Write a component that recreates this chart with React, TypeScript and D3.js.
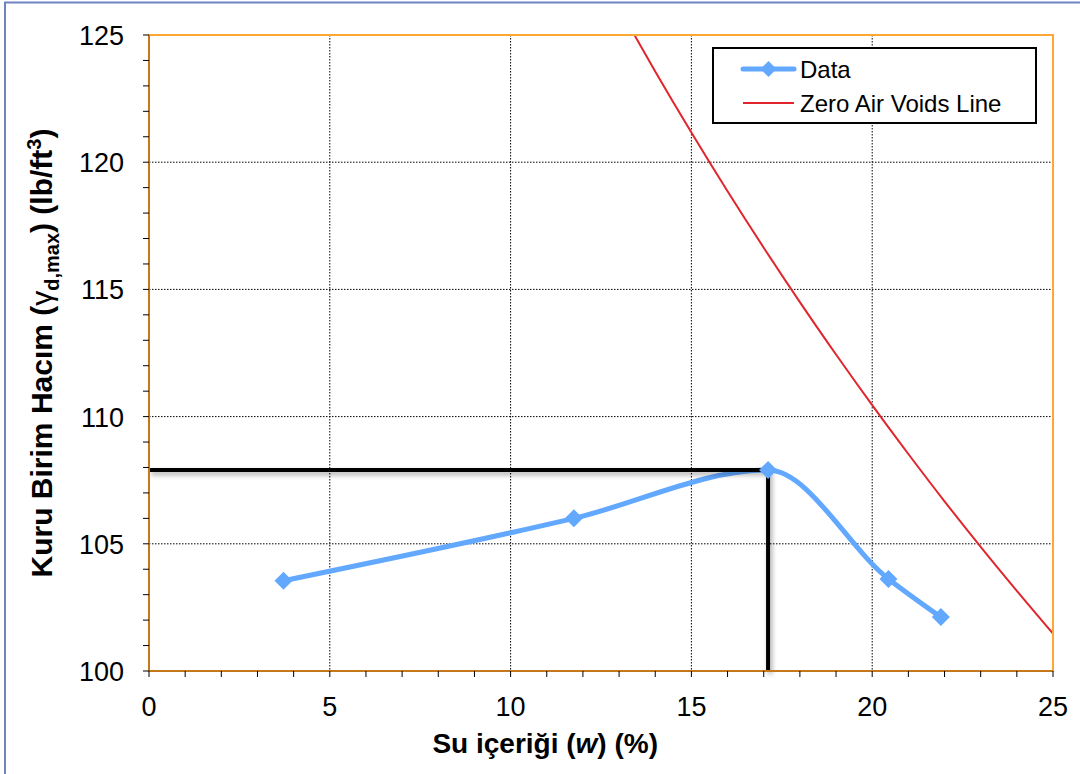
import React from "react";
import * as d3 from "d3";

const dataW = [3.72, 11.75, 17.12, 20.45, 21.9];
const dataG = [103.55, 106.0, 107.9, 103.62, 102.12];

const zavW = [13, 14, 15, 16, 17, 18, 19, 20, 21, 22, 23, 24, 25];
const zavG = [126.07, 123.57, 121.17, 118.86, 116.64, 114.5, 112.44, 110.45, 108.53, 106.67, 104.88, 103.15, 101.47];

const xTicks = [0, 5, 10, 15, 20, 25];
const yTicks = [100, 105, 110, 115, 120, 125];
const xMinor = d3.range(0, 26, 1);
const yMinor = d3.range(100, 126, 1);

const optW = [17.12];
const optG = [107.9];

const W = 1080, H = 774;
const L = 149, R = 1053, T = 35, B = 671;
const FONT = "Arial, 'Liberation Sans', sans-serif";

export default function App() {
  const x = d3.scaleLinear().domain([0, 25]).range([L, R]);
  const y = d3.scaleLinear().domain([100, 125]).range([B, T]);
  const dataPts = dataW.map((w, i) => [w, dataG[i]] as [number, number]);
  const zavPts = zavW.map((w, i) => [w, zavG[i]] as [number, number]);
  const line = d3.line<[number, number]>().x(d => x(d[0])).y(d => y(d[1]));
  const smooth = d3.line<[number, number]>().x(d => x(d[0])).y(d => y(d[1])).curve(d3.curveMonotoneX);
  const zavLine = d3.line<[number, number]>().x(d => x(d[0])).y(d => y(d[1])).curve(d3.curveMonotoneX);
  const diamond = (cx: number, cy: number, r: number) => `M${cx},${cy - r}L${cx + r},${cy}L${cx},${cy + r}L${cx - r},${cy}Z`;
  const blue = "#62A8FF";
  const red = "#E0262C";

  return (
    <svg width={W} height={H} style={{ position: "absolute", left: 0, top: 0, background: "#fff" }} fontFamily={FONT}>
      <defs>
        <clipPath id="plotClip"><rect x={L} y={T} width={R - L} height={B - T} /></clipPath>
        <filter id="shadow" x="-20%" y="-20%" width="140%" height="140%">
          <feDropShadow dx="2" dy="3" stdDeviation="2.5" floodColor="#000" floodOpacity="0.35" />
        </filter>
      </defs>
      <rect x={0} y={0} width={W} height={H} fill="#fff" />
      <path d={`M5,${H}V2.5H${W}`} fill="none" stroke="#6E84C2" strokeWidth={2} />

      {/* grid */}
      {xTicks.slice(1, -1).map(t => (
        <line key={"gx" + t} x1={x(t)} x2={x(t)} y1={T} y2={B} stroke="#000" strokeWidth={1} strokeDasharray="1.5,1.5" />
      ))}
      {yTicks.slice(1, -1).map(t => (
        <line key={"gy" + t} x1={L} x2={R} y1={y(t)} y2={y(t)} stroke="#000" strokeWidth={1} strokeDasharray="1.5,1.5" />
      ))}

      <g clipPath="url(#plotClip)">
        <path d={zavLine(zavPts) || ""} fill="none" stroke={red} strokeWidth={2} />
        <path d={smooth(dataPts) || ""} fill="none" stroke={blue} strokeWidth={5} strokeLinejoin="round" />
      </g>

      {/* optimum lines */}
      <g filter="url(#shadow)">
        <path d={line([[0, optG[0]], [optW[0], optG[0]], [optW[0], 100]]) || ""} fill="none" stroke="#000" strokeWidth={4} strokeLinejoin="miter" />
      </g>

      {dataPts.map((d, i) => (
        <path key={"m" + i} d={diamond(x(d[0]), y(d[1]), 9)} fill={blue} />
      ))}

      {/* plot border */}
      <rect x={L} y={T} width={R - L} height={B - T} fill="none" stroke="#FFA733" strokeWidth={2} />
      <line x1={L} x2={L} y1={T} y2={B} stroke="#8B4A00" strokeWidth={1} />
      <line x1={L} x2={R} y1={B} y2={B} stroke="#8B4A00" strokeWidth={1} />

      {/* ticks */}
      {xMinor.map(t => (
        <line key={"xt" + t} x1={x(t)} x2={x(t)} y1={B} y2={B + 6} stroke="#000" strokeWidth={1} />
      ))}
      {yMinor.map(t => (
        <line key={"yt" + t} x1={L - 6} x2={L} y1={y(t)} y2={y(t)} stroke="#000" strokeWidth={1} />
      ))}
      {xTicks.map(t => (
        <text key={"xl" + t} x={x(t)} y={716} fontSize={27} textAnchor="middle" fill="#000">{t}</text>
      ))}
      {yTicks.map(t => (
        <text key={"yl" + t} x={124} y={y(t) + 10} fontSize={27} textAnchor="end" fill="#000">{t}</text>
      ))}

      {/* axis titles */}
      <text x={658} y={753} fontSize={28} fontWeight="bold" textAnchor="end" fill="#000">
        Su içeriği (<tspan fontStyle="italic">w</tspan>) (%)
      </text>
      <text transform={`translate(52,${(T + B) / 2}) rotate(-90)`} fontSize={30} fontWeight="bold" textAnchor="middle" fill="#000">
        Kuru Birim Hacım (<tspan fontWeight="normal">γ</tspan><tspan fontSize={20} dy={7}>d,max</tspan><tspan dy={-7}>) (lb/ft</tspan><tspan fontSize={20} dy={-11}>3</tspan><tspan dy={11}>)</tspan>
      </text>

      {/* legend */}
      <rect x={713} y={48} width={323} height={75} fill="#fff" stroke="#000" strokeWidth={2} />
      <line x1={743} x2={794} y1={69} y2={69} stroke={blue} strokeWidth={5} strokeLinecap="round" />
      <path d={diamond(768.5, 69, 8)} fill={blue} />
      <text x={800} y={78} fontSize={24} fill="#000">Data</text>
      <line x1={743} x2={794} y1={103} y2={103} stroke={red} strokeWidth={2} />
      <text x={800} y={112} fontSize={24} fill="#000">Zero Air Voids Line</text>
    </svg>
  );
}
